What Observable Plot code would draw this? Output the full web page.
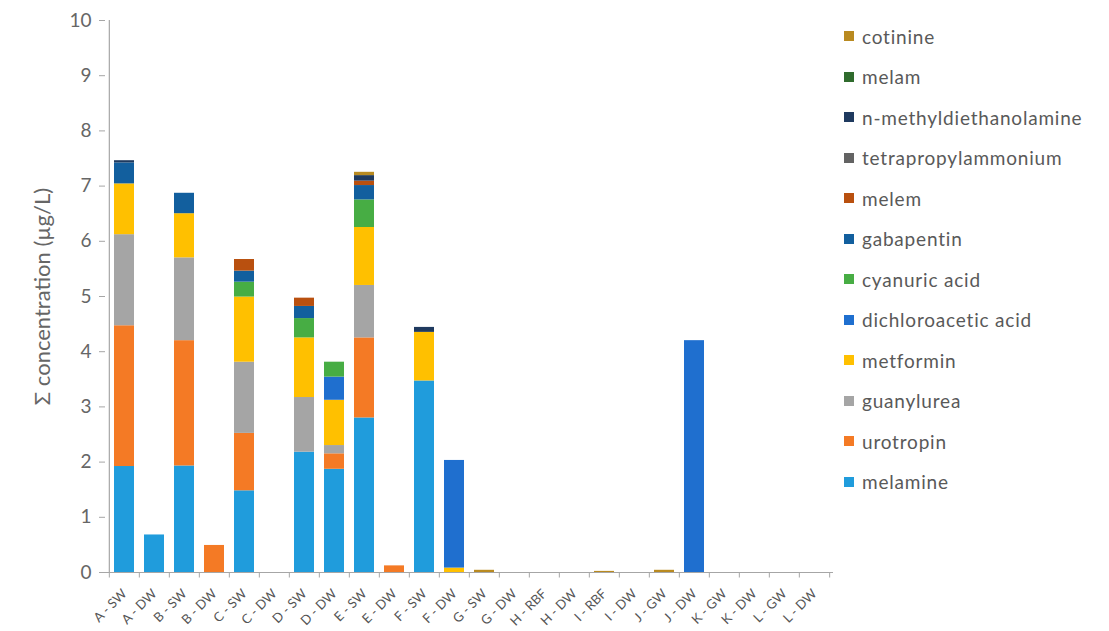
<!DOCTYPE html>
<html><head><meta charset="utf-8">
<script src="https://cdn.jsdelivr.net/npm/d3@7"></script>
<script src="https://cdn.jsdelivr.net/npm/@observablehq/plot@0.6"></script>
<style>
body{margin:0;background:#fff;font-family:Lato,"Open Sans",sans-serif}
#wrap{position:relative;width:1109px;height:631px}
#legend{position:absolute;left:844px;top:16px}
.item{display:flex;align-items:center;height:40.5px;font-size:19px;letter-spacing:0.8px;color:#595959}
.sw{width:10px;height:10px;margin-right:8px;flex:none}
</style></head>
<body><div id="wrap"><div id="legend"></div></div>
<script>
const categories = ["A - SW","A - DW","B - SW","B - DW","C - SW","C - DW","D - SW","D - DW","E - SW","E - DW","F - SW","F - DW","G - SW","G - DW","H - RBF","H - DW","I - RBF","I - DW","J - GW","J - DW","K - GW","K - DW","L - GW","L - DW"];
//                 A-SW A-DW B-SW B-DW C-SW C-DW D-SW D-DW E-SW E-DW F-SW F-DW G-SW G-DW H-RBF H-DW I-RBF I-DW J-GW J-DW K-GW K-DW L-GW L-DW
const melamine     = [1.92,0.68,1.93,0,   1.48,0,   2.18,1.87,2.80,0,   3.47,0,   0,0,0,0,0,0,0,0,   0,0,0,0];
const urotropin    = [2.55,0,   2.27,0.49,1.04,0,   0,   0.28,1.45,0.12,0,   0,   0,0,0,0,0,0,0,0,   0,0,0,0];
const guanylurea   = [1.65,0,   1.50,0,   1.29,0,   0.99,0.15,0.95,0,   0,   0,   0,0,0,0,0,0,0,0,   0,0,0,0];
const metformin    = [0.92,0,   0.80,0,   1.18,0,   1.08,0.82,1.05,0,   0.88,0.08,0,0,0,0,0,0,0,0,   0,0,0,0];
const dichloroacetic = [0,  0,   0,   0,   0,   0,   0,   0.42,0,   0,   0,   1.95,0,0,0,0,0,0,0,4.20,0,0,0,0];
const cyanuric     = [0,   0,   0,   0,   0.27,0,   0.35,0.27,0.50,0,   0,   0,   0,0,0,0,0,0,0,0,   0,0,0,0];
const gabapentin   = [0.38,0,   0.37,0,   0.20,0,   0.22,0,   0.26,0,   0,   0,   0,0,0,0,0,0,0,0,   0,0,0,0];
const melem        = [0,   0,   0,   0,   0.21,0,   0.15,0,   0.08,0,   0,   0,   0,0,0,0,0,0,0,0,   0,0,0,0];
const tetrapropylammonium = [0,0,0,0,   0,   0,   0,   0,   0,   0,   0,   0,   0,0,0,0,0,0,0,0,   0,0,0,0];
const nmethyldiethanolamine = [0.04,0,0,0, 0,   0,   0,   0,   0.10,0,   0.09,0,   0,0,0,0,0,0,0,0,   0,0,0,0];
const melam        = [0,   0,   0,   0,   0,   0,   0,   0,   0,   0,   0,   0,   0,0,0,0,0,0,0,0,   0,0,0,0];
const cotinine     = [0,   0,   0,   0,   0,   0,   0,   0,   0.06,0,   0,   0,   0.04,0,0,0,0.02,0,0.04,0,0,0,0,0];

const seriesNames = ["melamine","urotropin","guanylurea","metformin","dichloroacetic acid","cyanuric acid","gabapentin","melem","tetrapropylammonium","n-methyldiethanolamine","melam","cotinine"];
const seriesValues = [melamine,urotropin,guanylurea,metformin,dichloroacetic,cyanuric,gabapentin,melem,tetrapropylammonium,nmethyldiethanolamine,melam,cotinine];
const colors = ["#209cdc","#f47a25","#a5a5a5","#ffc000","#1f6fcf","#47ad44","#125f9e","#b9500f","#636363","#1f3a5f","#2f6b2d","#b98a20"];
const yTicks = [0,1,2,3,4,5,6,7,8,9,10];
const yLabel = "Σ concentration (µg/L)";

const data = [];
seriesNames.forEach((s, i) => categories.forEach((c, j) => data.push({cat: c, series: s, value: seriesValues[i][j]})));

const W = 1109, H = 631, ml = 105, mr = 276, mt = 20, mb = 59;
const step = (W - ml - mr) / categories.length;
const axisColor = "#a6a6a6";

const chart = Plot.plot({
  width: W, height: H,
  marginLeft: ml, marginRight: mr, marginTop: mt, marginBottom: mb,
  style: {fontFamily: "Lato, 'Open Sans', sans-serif", color: "#595959", background: "white"},
  x: {domain: categories, paddingInner: 0.33, paddingOuter: 0.165, axis: null},
  y: {domain: [0, 10], axis: null},
  color: {domain: seriesNames, range: colors},
  marks: [
    Plot.barY(data, Plot.stackY({x: "cat", y: "value", fill: "series", z: "series", order: null})),
    Plot.ruleY([0], {stroke: axisColor, strokeWidth: 1.2}),
    Plot.ruleX([categories[0]], {x: d => d, dx: -step / 2, y1: 0, y2: 10, stroke: axisColor, strokeWidth: 1.2}),
    Plot.ruleX(categories, {x: d => d, dx: -step / 2, y1: 0, y2: -0.1, stroke: axisColor}),
    Plot.ruleX([categories[categories.length - 1]], {x: d => d, dx: step / 2, y1: 0, y2: -0.1, stroke: axisColor}),
    Plot.axisY({ticks: yTicks, tickSize: 6, tickPadding: 8, fontSize: 19, label: null, stroke: axisColor, fill: "#666"}),
    Plot.text(categories, {x: d => d, y: 0, text: d => d, rotate: -45, textAnchor: "end", dy: 19, dx: 0, fontSize: 13, letterSpacing: 0.4, fill: "#555"}),
    Plot.text([yLabel], {frameAnchor: "left", textAnchor: "middle", dx: -63, rotate: -90, fontSize: 22, letterSpacing: 2.2, fill: "#666"})
  ]
});
document.getElementById("wrap").prepend(chart);

const legend = document.getElementById("legend");
for (let i = seriesNames.length - 1; i >= 0; i--) {
  const it = document.createElement("div");
  it.className = "item";
  it.innerHTML = `<span class="sw" style="background:${colors[i]}"></span><span>${seriesNames[i]}</span>`;
  legend.appendChild(it);
}
</script></body></html>
